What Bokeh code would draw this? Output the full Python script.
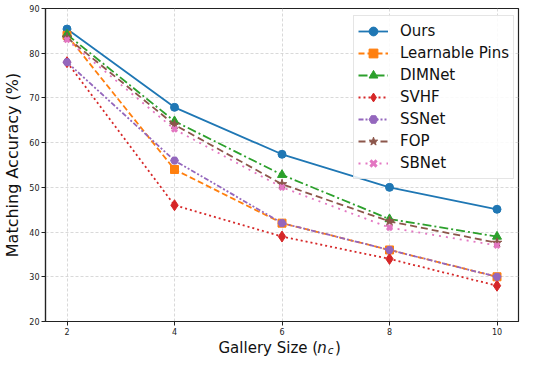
from bokeh.plotting import figure
from bokeh.layouts import column
from bokeh.models import Range1d, Legend, LegendItem, Label, FixedTicker
from bokeh.embed import file_html
from bokeh.resources import INLINE

# ---- data ----
gallery_sizes = [2, 4, 6, 8, 10]
ours = [85.4, 67.9, 57.4, 50.0, 45.1]
learnable_pins = [84.0, 54.0, 42.0, 36.0, 30.0]
dimnet = [84.2, 64.8, 52.8, 42.9, 39.0]
svhf = [78.0, 46.0, 39.0, 34.0, 28.0]
ssnet = [78.0, 56.0, 42.0, 36.0, 30.0]
fop = [83.5, 64.0, 50.7, 42.4, 37.6]
sbnet = [83.0, 63.0, 50.0, 41.0, 37.0]
series_names = ["Ours", "Learnable Pins", "DIMNet", "SVHF", "SSNet", "FOP", "SBNet"]
x_tick_values = [2, 4, 6, 8, 10]
y_tick_values = [20, 30, 40, 50, 60, 70, 80, 90]
x_label_parts = ["Gallery Size (", "n", "c", ")"]
y_label = "Matching Accuracy (%)"

FONT = "DejaVu Sans"

p = figure(width=520, height=337, output_backend="svg", toolbar_location=None,
           x_range=Range1d(1.6, 10.4), y_range=Range1d(20, 90),
           min_border_left=39, min_border_right=2, min_border_top=8,
           min_border_bottom=16)
p.background_fill_color = "white"
p.outline_line_color = "#222222"
p.outline_line_width = 1.2

for ax in (p.xaxis[0], p.yaxis[0]):
    ax.axis_line_color = "#222222"
    ax.axis_line_width = 1.2
    ax.major_tick_out = 4
    ax.major_tick_in = 0
    ax.major_tick_line_color = "#222222"
    ax.minor_tick_line_color = None
    ax.major_label_text_font = FONT
    ax.major_label_text_font_size = "8px"
    ax.major_label_text_color = "#222222"
    ax.major_label_standoff = 2
p.xaxis.ticker = FixedTicker(ticks=x_tick_values)
p.yaxis.ticker = FixedTicker(ticks=y_tick_values)

p.yaxis.axis_label = y_label
p.yaxis.axis_label_text_font = FONT
p.yaxis.axis_label_text_font_size = "16px"
p.yaxis.axis_label_text_font_style = "normal"
p.yaxis.axis_label_text_color = "#111111"
p.yaxis.axis_label_standoff = 4

p.grid.grid_line_color = "#cfcfcf"
p.grid.grid_line_dash = "3 2"
p.grid.grid_line_width = 0.8
p.xgrid.ticker = FixedTicker(ticks=x_tick_values)
p.ygrid.ticker = FixedTicker(ticks=y_tick_values)

specs = [
    (ours, "#1f77b4", "solid", "circle", 8, 1),
    (learnable_pins, "#ff7f0e", "6 3", "square", 8, 1),
    (dimnet, "#2ca02c", "9 3 2 3", "triangle", 9, 1),
    (svhf, "#d62728", "2 3", "diamond", 11, 1),
    (ssnet, "#9467bd", "5 2 2 2 2 2", "hex", 8, 1),
    (fop, "#8c564b", "7 4", "star", 10, 1),
    (sbnet, "#e377c2", "2 5", "x", 7, 3),
]

items = []
for name, (vals, color, dash, marker, size, mlw) in zip(series_names, specs):
    l = p.line(gallery_sizes, vals, line_color=color, line_width=1.8, line_dash=dash)
    s = p.scatter(gallery_sizes, vals, marker=marker, size=size, fill_color=color,
                  line_color=color, line_width=mlw)
    items.append(LegendItem(label=name, renderers=[l, s]))

legend = Legend(items=items, location=(308, 142))
legend.label_text_font = FONT
legend.label_text_font_size = "15px"
legend.label_text_color = "#111111"
legend.glyph_width = 30
legend.glyph_height = 22
legend.label_height = 22
legend.spacing = 0
legend.padding = 4
legend.margin = 0
legend.label_standoff = 12
legend.border_line_color = "#cccccc"
legend.border_line_width = 1
legend.background_fill_color = "white"
legend.background_fill_alpha = 0.85
p.add_layout(legend, "center")

# x axis label strip (mixed regular / italic / subscript text); its frame is
# aligned with the main plot's frame by the column layout
xl = figure(width=520, height=19, output_backend="svg", toolbar_location=None,
            x_range=Range1d(0, 1), y_range=Range1d(0, 1),
            x_axis_location=None, y_axis_location=None,
            min_border_left=0, min_border_right=0, min_border_top=0, min_border_bottom=0)
xl.outline_line_color = None
xl.grid.visible = False
common = dict(x_units="screen", y_units="screen", text_font=FONT, text_color="#111111",
              text_baseline="alphabetic")
x0 = 173
yb = 9
xl.add_layout(Label(x=x0, y=yb, text=x_label_parts[0], text_font_size="15px", **common))
xl.add_layout(Label(x=x0 + 98.7, y=yb, text=x_label_parts[1], text_font_size="15px",
                    text_font_style="italic", **common))
xl.add_layout(Label(x=x0 + 109.2, y=yb - 2.5, text=x_label_parts[2], text_font_size="10.5px",
                    text_font_style="italic", **common))
xl.add_layout(Label(x=x0 + 116.5, y=yb, text=x_label_parts[3], text_font_size="15px", **common))

layout = column(p, xl, spacing=0)
open("out.html", "w").write(file_html(layout, INLINE))
